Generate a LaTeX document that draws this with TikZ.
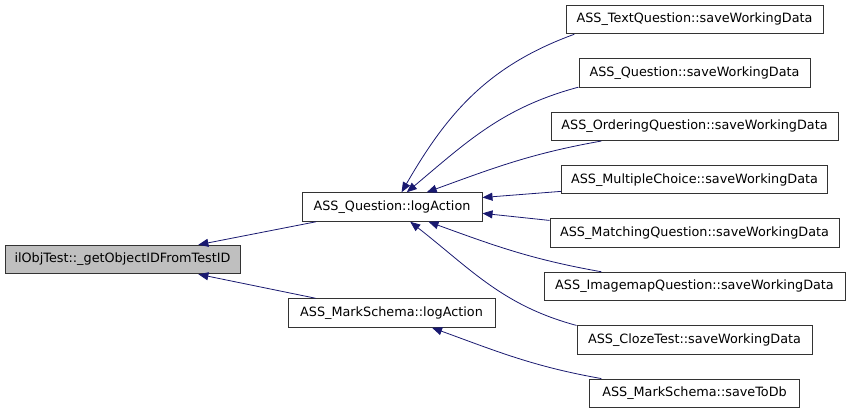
\documentclass[tikz,border=0pt]{standalone}
\usepackage{fontspec}
\setmainfont{DejaVu Sans}
\usepackage{tikz}
\usetikzlibrary{positioning,arrows.meta}
\definecolor{midnight}{HTML}{191970}

\begin{document}
\begin{tikzpicture}[x = 1pt, y = 1pt,
    every node/.style = { draw = black!80, line width = 1pt, minimum height = 28.5pt, inner sep = 0pt, font = \fontsize{12.8}{15}\selectfont },
    focus/.style = { fill = black!25 },
    calls/.style = { draw = midnight, line width = .8pt, > = {Triangle[length = 10pt, width = 8pt]}, <- },
    node distance = 23.9pt ]
    \useasboundingbox (0,0) rectangle (851,-413);

    \node [focus, minimum width = 235pt] (objtest) at (122.5,-259.5) { ilObjTest::\_getObjectIDFromTestID };
    \node [minimum width = 180pt] (qlog) at (392,-207) { ASS\_Question::logAction };
    \node [minimum width = 207pt] (mlog) at (391.5,-313) { ASS\_MarkSchema::logAction };

    % callers, right column
    \node [minimum width = 257pt] (textq) at (694.5,-19.5) { ASS\_TextQuestion::saveWorkingData };
    \node [below = of textq, minimum width = 231pt] (quest) { ASS\_Question::saveWorkingData };
    \node [below = of quest, minimum width = 287pt] (order) { ASS\_OrderingQuestion::saveWorkingData };
    \node [below = of order, minimum width = 266pt] (multi) { ASS\_MultipleChoice::saveWorkingData };
    \node [below = of multi, minimum width = 289pt] (match) { ASS\_MatchingQuestion::saveWorkingData };
    \node [below = of match, minimum width = 301pt] (imap) { ASS\_ImagemapQuestion::saveWorkingData };
    \node [below = of imap, minimum width = 235pt] (cloze) { ASS\_ClozeTest::saveWorkingData };
    \node [below = of cloze, minimum width = 210pt] (todb) { ASS\_MarkSchema::saveToDb };

    \draw [calls] (objtest.11) -- (qlog.191);
    \draw [calls] (objtest.-11) -- (mlog.169);

    \draw [calls] (qlog.57) to [out = 60, in = 200] (textq.187);
    \draw [calls] (qlog.45) to [out = 40, in = 195] (quest.187);
    \draw [calls] (qlog.23) to [out = 20, in = 190] (order.189);
    \draw [calls] (qlog.6) -- (multi.185);
    \draw [calls] (qlog.-4) -- (match.175);
    \draw [calls] (qlog.-22) to [out = -20, in = 170] (imap.171);
    \draw [calls] (qlog.-39) to [out = -38, in = 165] (cloze.173);
    \draw [calls] (mlog.-20) to [out = -20, in = 170] (todb.171);
\end{tikzpicture}
\end{document}
